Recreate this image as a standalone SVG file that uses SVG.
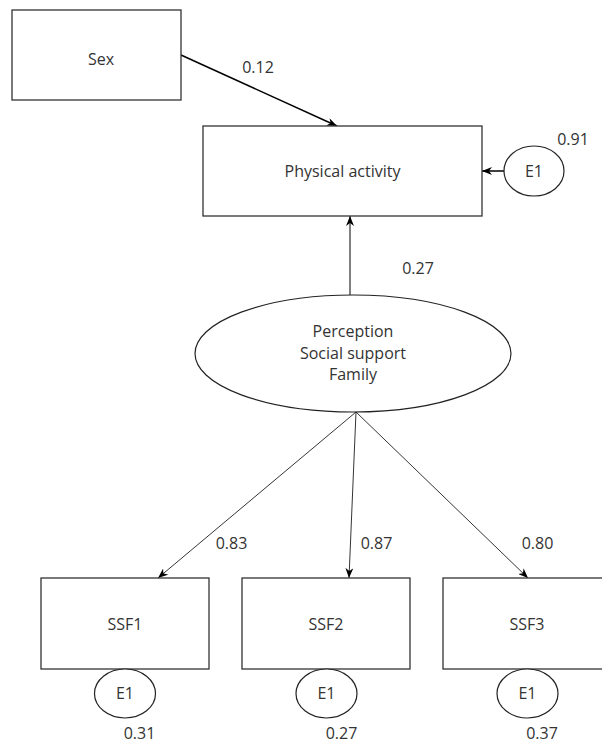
<svg xmlns="http://www.w3.org/2000/svg" width="602" height="742" viewBox="0 0 602 742">
<defs>
<style>
.box{fill:#fff;stroke:#333;stroke-width:1.3}
.ell{fill:#fff;stroke:#222;stroke-width:1.2}
.t{font-family:"Open Sans","Noto Sans",sans-serif;font-size:16px;fill:#333;text-anchor:middle}
.c{fill:none;stroke:#000}
</style>
<marker id="arr" viewBox="0 0 10 8" refX="10" refY="4" markerWidth="10" markerHeight="8" markerUnits="userSpaceOnUse" orient="auto">
<path d="M0,0 L10,4 L0,8 L3,4 z" fill="#000"/>
</marker>
</defs>
<rect width="602" height="742" fill="#fff"/>
<g id="connectors">
<line class="c" x1="181" y1="55" x2="337" y2="126" stroke-width="1.5" marker-end="url(#arr)"/>
<line class="c" x1="504" y1="171" x2="482" y2="171" stroke-width="1.5" marker-end="url(#arr)"/>
<line class="c" x1="350" y1="295" x2="350" y2="216" stroke-width="1" marker-end="url(#arr)"/>
<line class="c" x1="356" y1="412" x2="158" y2="578" stroke-width="0.8" marker-end="url(#arr)"/>
<line class="c" x1="356" y1="412" x2="349" y2="578" stroke-width="0.8" marker-end="url(#arr)"/>
<line class="c" x1="356" y1="412" x2="528" y2="578" stroke-width="0.8" marker-end="url(#arr)"/>
</g>
<g id="labels">
<text class="t" x="258" y="72.5">0.12</text>
<text class="t" x="573" y="144.5">0.91</text>
<text class="t" x="418" y="273.5">0.27</text>
<text class="t" x="231.5" y="548.5">0.83</text>
<text class="t" x="376.5" y="548.5">0.87</text>
<text class="t" x="537.5" y="548.5">0.80</text>
<text class="t" x="139.5" y="738.5">0.31</text>
<text class="t" x="341.5" y="738.5">0.27</text>
<text class="t" x="542" y="738.5">0.37</text>
</g>
<g id="sex">
<rect class="box" x="12" y="10" width="169" height="90"/>
<text class="t" x="101" y="64.5">Sex</text>
</g>
<g id="physical-activity">
<rect class="box" x="203" y="126" width="279" height="90"/>
<text class="t" x="342.5" y="176.5">Physical activity</text>
</g>
<g id="e1-pa">
<ellipse class="ell" cx="534" cy="171" rx="30" ry="25"/>
<text class="t" x="534" y="176.5">E1</text>
</g>
<g id="perception">
<ellipse class="ell" cx="353" cy="353.5" rx="158" ry="58.5"/>
<text class="t" x="353" y="336.5">Perception</text>
<text class="t" x="353" y="358.5">Social support</text>
<text class="t" x="353" y="379.5">Family</text>
</g>
<g id="ssf1">
<rect class="box" x="41" y="578" width="168" height="91"/>
<text class="t" x="125" y="629.5">SSF1</text>
</g>
<g id="ssf2">
<rect class="box" x="242" y="578" width="168" height="91"/>
<text class="t" x="326" y="629.5">SSF2</text>
</g>
<g id="ssf3">
<rect class="box" x="443" y="578" width="168" height="91"/>
<text class="t" x="527" y="629.5">SSF3</text>
</g>
<g id="e1-ssf1">
<ellipse class="ell" cx="125" cy="693.5" rx="30.5" ry="24.5"/>
<text class="t" x="125" y="699">E1</text>
</g>
<g id="e1-ssf2">
<ellipse class="ell" cx="326.5" cy="693.5" rx="30.5" ry="24.5"/>
<text class="t" x="326.5" y="699">E1</text>
</g>
<g id="e1-ssf3">
<ellipse class="ell" cx="527.5" cy="693.5" rx="30.5" ry="24.5"/>
<text class="t" x="527.5" y="699">E1</text>
</g>
</svg>
